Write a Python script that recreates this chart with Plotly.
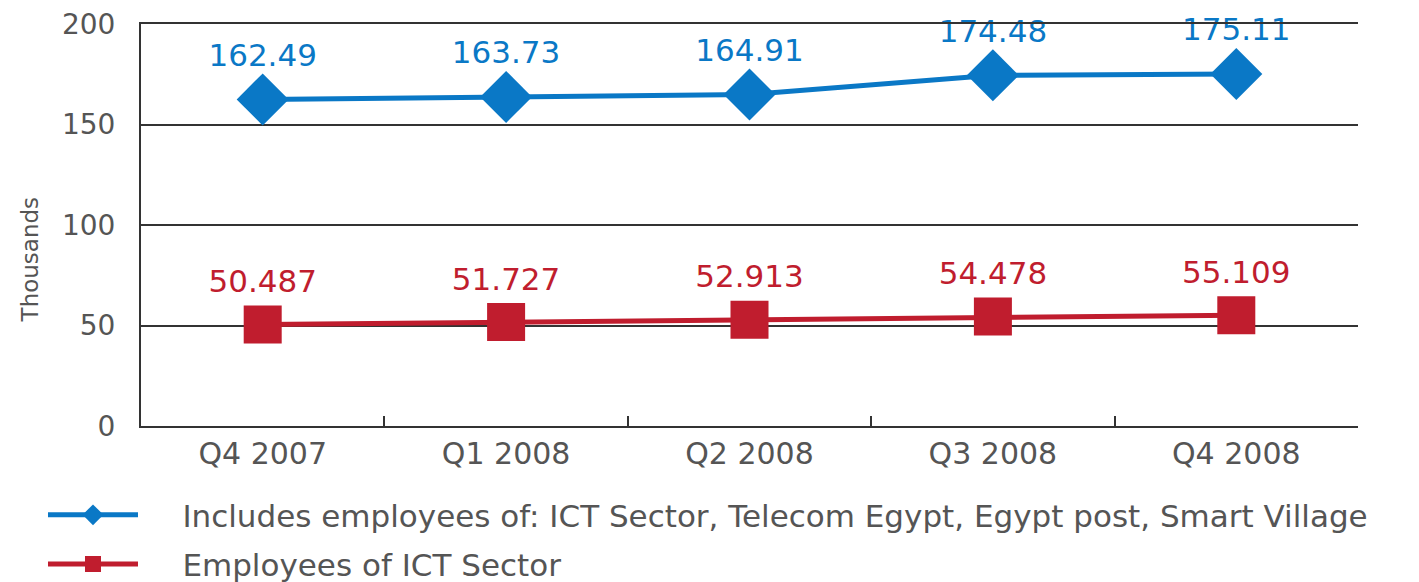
import plotly.graph_objects as go

categories = ["Q4 2007", "Q1 2008", "Q2 2008", "Q3 2008", "Q4 2008"]
total_values = [162.49, 163.73, 164.91, 174.48, 175.11]
total_labels = ["162.49", "163.73", "164.91", "174.48", "175.11"]
ict_values = [50.487, 51.727, 52.913, 54.478, 55.109]
ict_labels = ["50.487", "51.727", "52.913", "54.478", "55.109"]
y_ticks = [0, 50, 100, 150, 200]

BLUE = "#0a78c6"
RED = "#c01d2e"
GRAY = "#555555"
FONT = "DejaVu Sans"
PAD = "\u00a0" * 4

fig = go.Figure()
fig.add_trace(go.Scatter(
    x=categories, y=total_values, text=total_labels,
    mode="lines+markers+text", textposition="top center",
    name=PAD + "Includes employees of: ICT Sector, Telecom Egypt, Egypt post, Smart Village",
    legendgroup="a",
    line=dict(color=BLUE, width=5),
    marker=dict(symbol="diamond", size=40, color=BLUE),
    textfont=dict(color=BLUE, size=31, family=FONT),
    cliponaxis=False,
))
fig.add_trace(go.Scatter(
    x=categories, y=ict_values, text=ict_labels,
    mode="lines+markers+text", textposition="top center",
    name=PAD + "Employees of ICT Sector",
    legendgroup="b",
    line=dict(color=RED, width=5),
    marker=dict(symbol="square", size=38, color=RED),
    textfont=dict(color=RED, size=31, family=FONT),
    cliponaxis=False,
))

fig.add_annotation(
    text="Thousands", textangle=-90, xref="paper", yref="y",
    x=-0.091, y=83, showarrow=False, xanchor="center", yanchor="middle",
    font=dict(size=23, color=GRAY, family=FONT),
)

fig.update_layout(
    width=1411, height=574,
    margin=dict(l=133, r=61, t=16, b=156, autoexpand=False),
    paper_bgcolor="white", plot_bgcolor="white",
    font=dict(family=FONT, color=GRAY),
    showlegend=True,
    legend=dict(
        xref="container", yref="container",
        x=0.0248, y=0.1635, xanchor="left", yanchor="top",
        orientation="v", font=dict(size=31, color=GRAY, family=FONT),
        itemwidth=90, tracegroupgap=6, traceorder="grouped",
        bgcolor="rgba(0,0,0,0)",
    ),
    xaxis=dict(
        type="category", showgrid=False, showline=True, linecolor="#333333",
        linewidth=2, mirror=True, ticks="inside", tickson="boundaries", ticklen=10,
        tickcolor="#333333", tickwidth=2, automargin=False,
        tickfont=dict(size=30, color=GRAY, family=FONT),
        range=[-0.5, 4.5],
    ),
    yaxis=dict(
        range=[0, 200], tickvals=y_ticks, showgrid=True, gridcolor="#333333",
        gridwidth=2, showline=True, linecolor="#333333", linewidth=2,
        zeroline=False, ticks="", ticklabelstandoff=18, automargin=False,
        ticklabeloverflow="allow",
        tickfont=dict(size=28, color=GRAY, family=FONT),
    ),
)

fig.write_html("out.html")
